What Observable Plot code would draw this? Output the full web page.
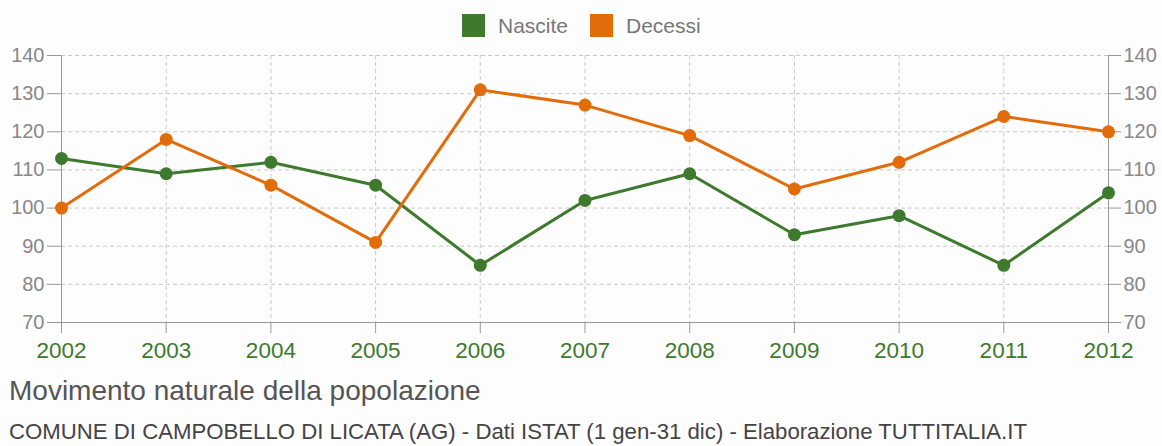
<!DOCTYPE html>
<html>
<head>
<meta charset="utf-8">
<script src="https://cdn.jsdelivr.net/npm/d3@7"></script>
<script src="https://cdn.jsdelivr.net/npm/@observablehq/plot@0.6"></script>
<style>
  html, body { margin: 0; padding: 0; background: #fdfdfd; font-family: "Liberation Sans", Arial, sans-serif; }
  #wrap { width: 1162px; height: 446px; position: relative; overflow: hidden; }
  #legend { height: 45px; position: relative; }
  .lg { position: absolute; top: 14px; height: 23px; display: flex; align-items: center; font-size: 21px; color: #777; white-space: nowrap; }
  .sw { width: 23px; height: 23px; display: inline-block; margin-right: 13px; }
  #title { position: absolute; left: 9px; top: 375px; font-size: 28px; line-height: 32px; color: #555; white-space: nowrap; }
  #caption { position: absolute; left: 9px; top: 419px; font-size: 22.2px; line-height: 26px; color: #444; white-space: nowrap; }
  svg { display: block; }
</style>
</head>
<body>
<div id="wrap">
  <div id="legend"></div>
  <div id="chart"></div>
  <div id="title">Movimento naturale della popolazione</div>
  <div id="caption">COMUNE DI CAMPOBELLO DI LICATA (AG) - Dati ISTAT (1 gen-31 dic) - Elaborazione TUTTITALIA.IT</div>
</div>
<script>
const years = [2002, 2003, 2004, 2005, 2006, 2007, 2008, 2009, 2010, 2011, 2012];
const nascite = [113, 109, 112, 106, 85, 102, 109, 93, 98, 85, 104];
const decessi = [100, 118, 106, 91, 131, 127, 119, 105, 112, 124, 120];
const seriesNames = ["Nascite", "Decessi"];
const seriesColors = ["#3d7a2e", "#e36c0a"];
const yTicks = [70, 80, 90, 100, 110, 120, 130, 140];

const rows = [];
years.forEach((y, i) => {
  rows.push({year: y, value: nascite[i], serie: "Nascite"});
  rows.push({year: y, value: decessi[i], serie: "Decessi"});
});

// legend
const legend = document.getElementById("legend");
const lgX = [462, 590];
seriesNames.forEach((n, i) => {
  const d = document.createElement("div");
  d.className = "lg";
  d.style.left = lgX[i] + "px";
  d.innerHTML = `<span class="sw" style="background:${seriesColors[i]}"></span>${n}`;
  legend.appendChild(d);
});

const gridColor = "#c8c8c8";
const axisColor = "#999";
const chart = Plot.plot({
  width: 1162,
  height: 325,
  marginTop: 10,
  marginBottom: 48,
  marginLeft: 61,
  marginRight: 54,
  style: {background: "transparent", fontFamily: "Liberation Sans, Arial, sans-serif"},
  x: {domain: [2002, 2012]},
  y: {domain: [70, 140]},
  color: {domain: seriesNames, range: seriesColors},
  marks: [
    Plot.gridY(yTicks, {stroke: gridColor, strokeOpacity: 1, strokeDasharray: "4,3"}),
    Plot.gridX(years, {stroke: gridColor, strokeOpacity: 1, strokeDasharray: "4,3"}),
    Plot.ruleY([70], {stroke: axisColor, strokeWidth: 1}),
    Plot.ruleX([2002, 2012], {stroke: axisColor, strokeWidth: 1}),
    Plot.axisY(yTicks, {anchor: "left", tickSize: 14, tickPadding: 3, fontSize: 20, color: "#888", stroke: axisColor, label: null}),
    Plot.axisY(yTicks, {anchor: "right", tickSize: 12, tickPadding: 3, fontSize: 20, color: "#888", stroke: axisColor, label: null}),
    Plot.axisX(years, {anchor: "bottom", tickSize: 11, tickPadding: 9, fontSize: 22.5, color: "#3d7a2e", stroke: axisColor, tickFormat: d => String(d), label: null}),
    Plot.line(rows, {x: "year", y: "value", z: "serie", stroke: "serie", strokeWidth: 3}),
    Plot.dot(rows, {x: "year", y: "value", fill: "serie", r: 6.5})
  ]
});
document.getElementById("chart").appendChild(chart);
</script>
</body>
</html>
